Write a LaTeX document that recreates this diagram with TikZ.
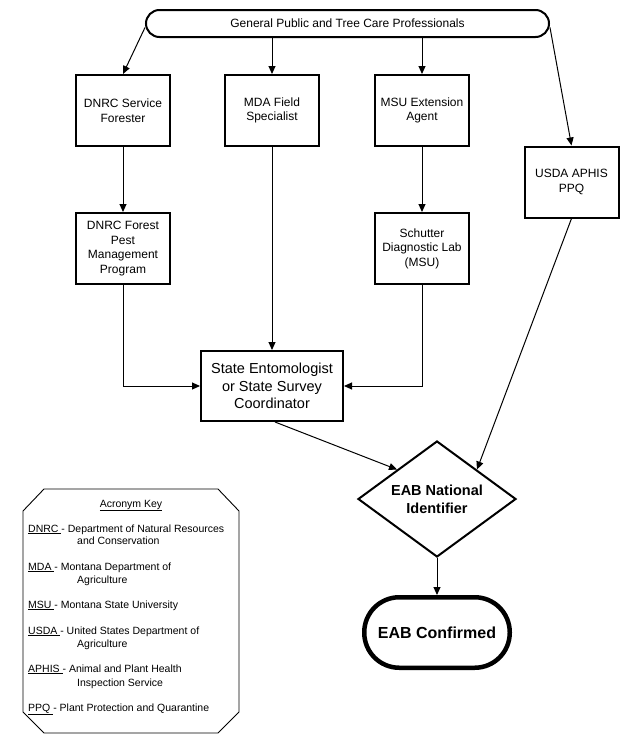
\documentclass[tikz,border=0pt]{standalone}
\usepackage{fontspec}
\setmainfont{Liberation Sans}
\usetikzlibrary{arrows.meta,shapes.geometric,calc}
\begin{document}
\begin{tikzpicture}[x=1pt,y=-1pt,
  box/.style={draw, line width=2pt, minimum width=94pt, minimum height=71pt, inner sep=2pt, align=center, font=\fontsize{12}{14.5}\selectfont},
  conn/.style={line width=1pt, -{Triangle[length=8pt,width=7pt]}},
  keytxt/.style={anchor=base west, inner sep=0pt, font=\fontsize{10.5}{12}\selectfont}]
\useasboundingbox (0,0) rectangle (640,742);
\fill[white] (0,0) rectangle (640,742);

\node[draw, line width=2pt, rounded corners=13.5pt, minimum width=403pt, minimum height=27pt, inner sep=0pt, font=\fontsize{12}{14.5}\selectfont] (gp) at (347.5,23.5) {General Public and Tree Care Professionals};

\node[box] (dnrc) at (123,110.5) {DNRC Service\\Forester};
\node[box] (mda) at (272,110.5) {MDA Field\\Specialist};
\node[box] (msu) at (422,110.5) {MSU Extension\\Agent};
\node[box] (usda) at (571.5,182) {USDA APHIS\\PPQ};
\node[box] (fpm) at (123,248.5) {DNRC Forest\\Pest\\Management\\Program};
\node[box] (sdl) at (422,248.5) {Schutter\\Diagnostic Lab\\(MSU)};
\node[box, minimum width=142pt, minimum height=70pt, font=\fontsize{14.5}{17.5}\selectfont] (se) at (272,386) {State Entomologist\\or State Survey\\Coordinator};

\node[draw, diamond, line width=2pt, minimum width=158pt, minimum height=116pt, inner sep=0pt, shape aspect=1.36, align=center, font=\bfseries\fontsize{14.5}{18}\selectfont] (nid) at (437,499) {EAB National\\Identifier};

\node[draw, line width=4.5pt, rounded corners=35pt, minimum width=145.5pt, minimum height=70.5pt, font=\bfseries\fontsize{16}{19}\selectfont] (conf) at (437,632.5) {EAB Confirmed};

\draw[conn] ([yshift=-4pt]gp.west) -- (dnrc.north);
\draw[conn] (gp.south -| mda.north) -- (mda.north);
\draw[conn] (gp.south -| msu.north) -- (msu.north);
\draw[conn] ([yshift=-4pt]gp.east) -- (usda.north);
\draw[conn] (dnrc.south) -- (fpm.north);
\draw[conn] (msu.south) -- (sdl.north);
\draw[conn] (mda.south) -- (se.north);
\draw[conn] (fpm.south) |- (se.west);
\draw[conn] (sdl.south) |- (se.east);
\draw[conn] ([xshift=3pt]se.south) -- ($(nid.west)!0.5!(nid.north)$);
\draw[conn] (usda.south) -- ($(nid.north)!0.5!(nid.east)$);
\draw[conn] (nid.south) -- (conf.north);

\draw[line width=0.9pt] (23,511) -- (44,489) -- (218,489) -- (239,511) -- (239,712) -- (218,733) -- (44,733) -- (23,712) -- cycle;

\node[keytxt, anchor=base] (kt) at (131,507) {\underline{Acronym Key}};
\node[keytxt] (k1) at (28,532) {\underline{DNRC\ }- Department of Natural Resources};
\node[keytxt] (k1b) at (77,544) {and Conservation};
\node[keytxt] (k2) at (28,570) {\underline{MDA\ }- Montana Department of};
\node[keytxt] (k2b) at (77,583) {Agriculture};
\node[keytxt] (k3) at (28,608) {\underline{MSU\ }- Montana State University};
\node[keytxt] (k4) at (28,634) {\underline{USDA\ }- United States Department of};
\node[keytxt] (k4b) at (77,647) {Agriculture};
\node[keytxt] (k5) at (28,672) {\underline{APHIS\ }- Animal and Plant Health};
\node[keytxt] (k5b) at (77,686) {Inspection Service};
\node[keytxt] (k6) at (28,711) {\underline{PPQ\ }- Plant Protection and Quarantine};
\end{tikzpicture}
\end{document}
